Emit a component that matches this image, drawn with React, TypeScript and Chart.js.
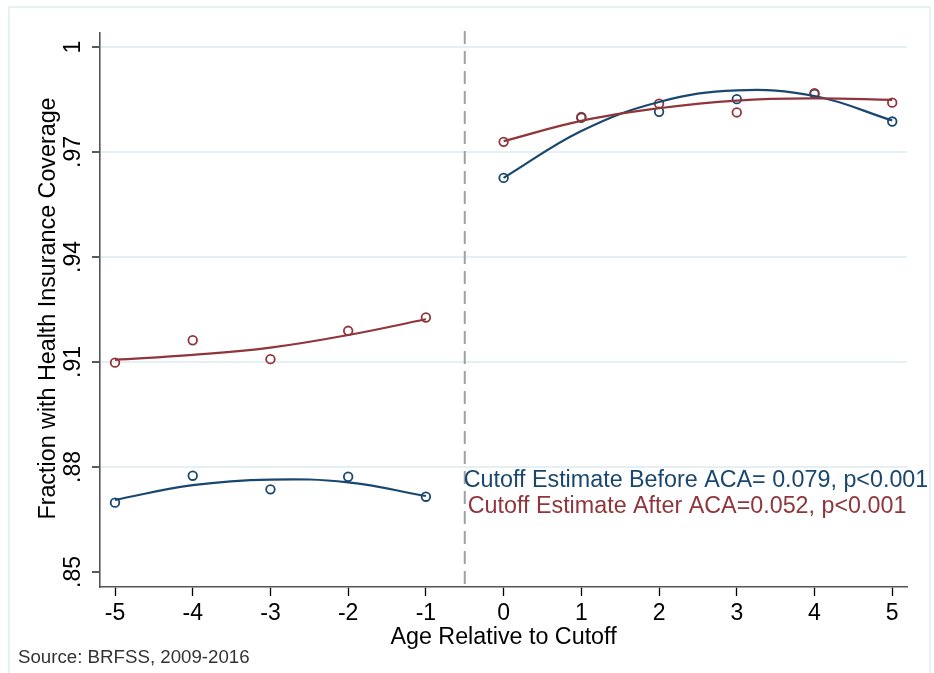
import React, { useEffect, useRef } from "react";
import { Chart, registerables } from "chart.js";

Chart.register(...registerables);

// ---- data ----
const ageLeft = [-5, -4, -3, -2, -1];
const ageRight = [0, 1, 2, 3, 4, 5];
const beforeLeft = [0.8698, 0.8775, 0.8736, 0.8772, 0.8715];
const beforeRight = [0.9626, 0.9798, 0.9815, 0.9851, 0.9866, 0.9787];
const afterLeft = [0.9098, 0.9162, 0.9108, 0.9189, 0.9227];
const afterRight = [0.9729, 0.98, 0.9838, 0.9813, 0.9868, 0.9841];
const beforeFitLeft = [0.8706, 0.8748, 0.8764, 0.8756, 0.8717];
const beforeFitRight = [0.9626, 0.976, 0.9843, 0.9876, 0.986, 0.979];
const afterFitLeft = [0.9106, 0.912, 0.9141, 0.9177, 0.9222];
const afterFitRight = [0.9731, 0.9789, 0.9825, 0.9847, 0.9853, 0.9849];
const xTicks = [-5, -4, -3, -2, -1, 0, 1, 2, 3, 4, 5];
const yTicks = [0.85, 0.88, 0.91, 0.94, 0.97, 1];
const yTickLabels = [".85", ".88", ".91", ".94", ".97", "1"];
const cutoff = -0.5;
const noteBefore = "Cutoff Estimate Before ACA= 0.079, p<0.001";
const noteAfter = "Cutoff Estimate After ACA=0.052, p<0.001";
const xTitle = "Age Relative to Cutoff";
const yTitle = "Fraction with Health Insurance Coverage";
const sourceNote = "Source: BRFSS, 2009-2016";

const BLUE = "#1a476f";
const RED = "#90353b";
const FONT = "'Liberation Sans', Arial, sans-serif";

const pts = (xs: number[], ys: number[]) => xs.map((x, i) => ({ x, y: ys[i] }));

const decor = {
  id: "decor",
  beforeDraw(chart: any) {
    const ctx = chart.ctx;
    ctx.save();
    ctx.fillStyle = "#ffffff";
    ctx.fillRect(0, 0, chart.width, chart.height);
    ctx.strokeStyle = "#e4ecee";
    ctx.lineWidth = 1.5;
    ctx.strokeRect(9, 7, 921, 680);
    ctx.restore();
  },
  beforeDatasetsDraw(chart: any) {
    const ctx = chart.ctx;
    const xs = chart.scales.x;
    const a = chart.chartArea;
    const px = xs.getPixelForValue(cutoff);
    ctx.save();
    ctx.strokeStyle = "#a0a0a0";
    ctx.lineWidth = 2;
    ctx.setLineDash([13, 7]);
    ctx.beginPath();
    ctx.moveTo(px, a.top - 2);
    ctx.lineTo(px, a.bottom);
    ctx.stroke();
    ctx.restore();
  },
  afterDraw(chart: any) {
    const ctx = chart.ctx;
    const xs = chart.scales.x;
    const ys = chart.scales.y;
    const a = chart.chartArea;
    ctx.save();
    // y tick labels (rotated)
    ctx.font = `23px ${FONT}`;
    ctx.fillStyle = "#000";
    ctx.textAlign = "center";
    ctx.textBaseline = "alphabetic";
    yTicks.forEach((v, i) => {
      const py = ys.getPixelForValue(v);
      ctx.save();
      ctx.translate(80, py);
      ctx.rotate(-Math.PI / 2);
      ctx.fillText(yTickLabels[i], 0, 0);
      ctx.restore();
    });
    // y title
    ctx.font = `23.3px ${FONT}`;
    ctx.save();
    ctx.translate(55, (a.top + a.bottom) / 2 - 1.5);
    ctx.rotate(-Math.PI / 2);
    ctx.fillText(yTitle, 0, 0);
    ctx.restore();
    // x title
    ctx.fillText(xTitle, (a.left + a.right) / 2, 644);
    // notes
    ctx.textAlign = "left";
    const nx = xs.getPixelForValue(cutoff);
    ctx.fillStyle = BLUE;
    ctx.fillText(noteBefore, nx - 1, 487);
    ctx.fillStyle = RED;
    ctx.fillText(noteAfter, nx + 3, 513);
    // source
    ctx.fillStyle = "#333333";
    ctx.font = `18.7px ${FONT}`;
    ctx.fillText(sourceNote, 18, 663);
    ctx.restore();
  },
};

export default function App() {
  const ref = useRef<HTMLCanvasElement | null>(null);
  useEffect(() => {
    if (!ref.current) return;
    const marker = (color: string, data: any, order: number) => ({
      type: "scatter" as const,
      data,
      showLine: false,
      borderColor: color,
      backgroundColor: "rgba(0,0,0,0)",
      pointRadius: 4.3,
      pointBorderWidth: 1.8,
      order,
    });
    const fit = (color: string, data: any, order: number) => ({
      type: "line" as const,
      data,
      borderColor: color,
      borderWidth: 2.2,
      pointRadius: 0,
      tension: 0.4,
      fill: false,
      order,
    });
    const chart = new Chart(ref.current, {
      type: "scatter",
      data: {
        datasets: [
          marker(BLUE, pts(ageLeft, beforeLeft), 8),
          marker(BLUE, pts(ageRight, beforeRight), 8),
          marker(RED, pts(ageLeft, afterLeft), 7),
          marker(RED, pts(ageRight, afterRight), 7),
          fit(BLUE, pts(ageLeft, beforeFitLeft), 6),
          fit(BLUE, pts(ageRight, beforeFitRight), 6),
          fit(RED, pts(ageLeft, afterFitLeft), 5),
          fit(RED, pts(ageRight, afterFitRight), 5),
        ] as any,
      },
      options: {
        animation: false,
        responsive: false,
        devicePixelRatio: 1,
        layout: { padding: { left: 10, right: 27, top: 33, bottom: 0 } },
        plugins: { legend: { display: false }, tooltip: { enabled: false } },
        scales: {
          x: {
            type: "linear",
            min: -5.193,
            max: 5.19,
            afterBuildTicks: (s: any) => {
              s.ticks = xTicks.map((v) => ({ value: v }));
            },
            afterFit: (s: any) => {
              s.height = 86;
            },
            ticks: {
              color: "#000",
              font: { family: FONT, size: 23 },
              padding: 4,
              callback: (v: any) => String(v),
            },
            grid: {
              drawOnChartArea: false,
              drawTicks: true,
              tickLength: 9,
              tickColor: "#000",
              tickWidth: 1.3,
            },
            border: { display: true, color: "#555555", width: 1.6 },
          },
          y: {
            type: "linear",
            min: 0.8457,
            max: 1.004,
            afterBuildTicks: (s: any) => {
              s.ticks = yTicks.map((v) => ({ value: v }));
            },
            afterFit: (s: any) => {
              s.width = 90;
            },
            ticks: { display: false },
            grid: {
              color: (c: any) =>
                c.tick && Math.abs(c.tick.value - 0.85) < 1e-6 ? "rgba(0,0,0,0)" : "#e6eff1",
              lineWidth: 2,
              drawTicks: true,
              tickLength: 8,
              tickColor: "#000",
              tickWidth: 1.3,
            },
            border: { display: true, color: "#555555", width: 1.6 },
          },
        },
      } as any,
      plugins: [decor],
    });
    return () => chart.destroy();
  }, []);
  return (
    <div style={{ position: "fixed", left: 0, top: 0, width: 934, height: 673, background: "#fff" }}>
      <canvas ref={ref} width={934} height={673} style={{ width: 934, height: 673, display: "block" }} />
    </div>
  );
}
